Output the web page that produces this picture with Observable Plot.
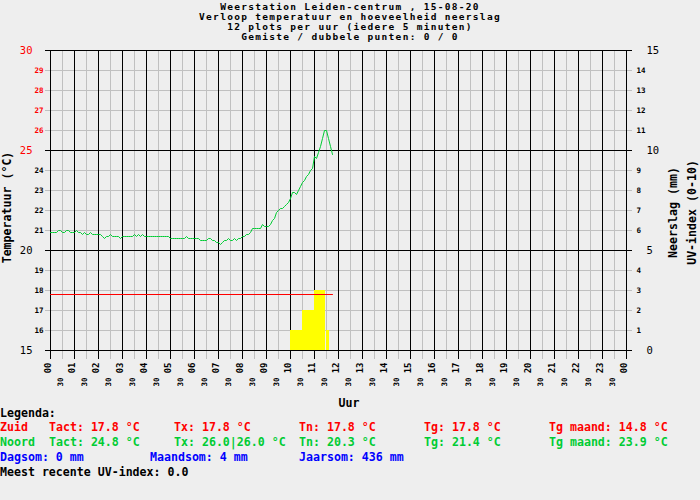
<!DOCTYPE html>
<html>
<head>
<meta charset="utf-8">
<script src="https://cdn.jsdelivr.net/npm/d3@7"></script>
<script src="https://cdn.jsdelivr.net/npm/@observablehq/plot@0.6"></script>
<style>
  html, body { margin: 0; padding: 0; background: #eeeeee; }
  #wrap { position: relative; width: 700px; height: 500px; background: #eeeeee; overflow: hidden;
          font-family: "DejaVu Sans Mono", monospace; font-weight: bold; font-size: 11.6px; }
  #title { position: absolute; left: 0; top: 2px; width: 700px; text-align: center; line-height: 10px; color: #000;
           font-size: 9.5px; letter-spacing: 1.3px; }
  #plot { position: absolute; left: 0; top: 0; }
  .lg { position: absolute; line-height: 12px; white-space: pre; }
  .red { color: #ff0000; } .green { color: #00cc33; } .blue { color: #0000ff; } .black { color: #000; }
</style>
</head>
<body>
<div id="wrap">
  <div id="plot"></div>
  <div id="title"></div>
  <div id="legend"></div>
</div>
<script>
// ---------- data ----------
const titleLines = [
  "Weerstation Leiden-centrum , 15-08-20",
  "Verloop temperatuur en hoeveelheid neerslag",
  "12 plots per uur (iedere 5 minuten)",
  "Gemiste / dubbele punten: 0 / 0"
];

// x axis (hours)
const hourTicks = [0,1,2,3,4,5,6,7,8,9,10,11,12,13,14,15,16,17,18,19,20,21,22,23,24];
const hourLabels = ["00","01","02","03","04","05","06","07","08","09","10","11","12","13","14","15","16","17","18","19","20","21","22","23","00"];
const halfHourTicks = [0.5,1.5,2.5,3.5,4.5,5.5,6.5,7.5,8.5,9.5,10.5,11.5,12.5,13.5,14.5,15.5,16.5,17.5,18.5,19.5,20.5,21.5,22.5,23.5];
const halfHourLabel = "30";

// left axis (temperature)
const tempMajor = [15, 20, 25, 30];
const tempMinor = [16,17,18,19,21,22,23,24,26,27,28,29];
// right axis (precipitation mm / UV index)
const rainMajor = [0, 5, 10, 15];
const rainMinor = [1,2,3,4,6,7,8,9,11,12,13,14];

// Noord temperature, 12 samples per hour (5 minutes), starting 00:00
const noordTempByHour = [
  [20.9,20.9,20.9,20.9,21.0,21.0,20.9,20.9,21.0,21.0,20.9,20.9],
  [20.9,21.0,20.9,20.9,20.8,20.9,20.8,20.8,20.9,20.8,20.8,20.8],
  [20.8,20.8,20.7,20.6,20.7,20.7,20.8,20.7,20.7,20.7,20.7,20.6],
  [20.7,20.7,20.7,20.7,20.7,20.7,20.8,20.7,20.8,20.7,20.8,20.7],
  [20.7,20.7,20.7,20.7,20.7,20.7,20.7,20.7,20.7,20.7,20.7,20.7],
  [20.6,20.6,20.6,20.6,20.6,20.6,20.6,20.6,20.7,20.6,20.6,20.6],
  [20.6,20.6,20.6,20.5,20.5,20.5,20.5,20.6,20.6,20.5,20.5,20.4],
  [20.4,20.3,20.4,20.5,20.5,20.6,20.5,20.5,20.6,20.5,20.6,20.6],
  [20.7,20.7,20.8,20.8,20.9,21.1,21.1,21.1,21.1,21.1,21.3,21.2],
  [21.2,21.2,21.3,21.5,21.6,21.9,22.0,22.1,22.1,22.2,22.3,22.4],
  [22.6,22.9,22.9,22.8,23.0,23.2,23.4,23.5,23.7,23.8,24.0,24.1],
  [24.7,24.6,24.9,25.2,25.6,26.0,26.0,25.6,25.2,24.8]
];
const samplesPerHour = 12;

// Zuid temperature (flat)
const zuidTimes = ["00:00", "11:45"];
const zuidTemp = [17.8, 17.8];

// Precipitation bars
const rainStart = ["10:00", "10:30", "11:00", "11:30"];
const rainEnd   = ["10:30", "11:00", "11:27", "11:37"];
const rainMm    = [1, 2, 3, 1];

// Legend
const legendRows = [
  {top: 407, cls: "black", items: [[0, "Legenda:"]]},
  {top: 421, cls: "red", items: [[0,"Zuid"],[49,"Tact: 17.8 °C"],[174,"Tx: 17.8 °C"],[299,"Tn: 17.8 °C"],[424,"Tg: 17.8 °C"],[549,"Tg maand: 14.8 °C"]]},
  {top: 436, cls: "green", items: [[0,"Noord"],[49,"Tact: 24.8 °C"],[174,"Tx: 26.0|26.0 °C"],[299,"Tn: 20.3 °C"],[424,"Tg: 21.4 °C"],[549,"Tg maand: 23.9 °C"]]},
  {top: 451, cls: "blue", items: [[0,"Dagsom: 0 mm"],[150,"Maandsom: 4 mm"],[299,"Jaarsom: 436 mm"]]},
  {top: 466, cls: "black", items: [[0,"Meest recente UV-index: 0.0"]]}
];

// ---------- build ----------
const toHour = s => { const [h, m] = s.split(":").map(Number); return h + m / 60; };

const noord = [];
noordTempByHour.forEach((row, h) => row.forEach((t, i) => noord.push({x: h + i / samplesPerHour, t})));
const zuid = zuidTimes.map((s, i) => ({x: toHour(s), t: zuidTemp[i]}));
const rain = rainStart.map((s, i) => ({x1: toHour(s), x2: toHour(rainEnd[i]), mm: rainMm[i]}));
// right axis 0..15 mm shares the pixel range of 15..30 °C
const rainToTemp = v => v + 15;

document.getElementById("title").innerHTML = titleLines.map(l => `<div>${l}</div>`).join("");
document.getElementById("legend").innerHTML = legendRows.map(r =>
  r.items.map(([left, txt]) => `<div class="lg ${r.cls}" style="left:${left}px;top:${r.top}px">${txt}</div>`).join("")
).join("");

const GRAY = "#c0c0c0";
const GREEN = "#00cc33";
const font = "DejaVu Sans Mono, monospace";

const chart = Plot.plot({
  width: 700,
  height: 410,
  marginLeft: 50,
  marginRight: 74,
  marginTop: 50,
  marginBottom: 60,
  style: {background: "transparent", overflow: "visible", fontFamily: font},
  x: {domain: [0, 24], axis: null},
  y: {domain: [15, 30], axis: null},
  marks: [
    Plot.ruleX(halfHourTicks, {x: d => d, stroke: GRAY, insetBottom: -9, shapeRendering: "crispEdges"}),
    Plot.ruleY(tempMinor, {y: d => d, stroke: GRAY, insetLeft: -5, insetRight: -6, shapeRendering: "crispEdges"}),
    Plot.ruleX(hourTicks, {x: d => d, stroke: "black", insetBottom: -9, shapeRendering: "crispEdges"}),
    Plot.ruleY(tempMajor, {y: d => d, stroke: "black", insetLeft: -5, insetRight: -6, shapeRendering: "crispEdges"}),
    Plot.rectY(rain, {x1: "x1", x2: "x2", y1: rainToTemp(0), y2: d => rainToTemp(d.mm), fill: "#ffff00", shapeRendering: "crispEdges"}),
    Plot.ruleY([tempMajor[0]], {y: d => d, stroke: "black", insetLeft: -5, insetRight: -6, shapeRendering: "crispEdges"}),
    Plot.line(zuid, {x: "x", y: "t", stroke: "#ff0000", strokeWidth: 1}),
    Plot.line(noord, {x: "x", y: "t", stroke: GREEN, strokeWidth: 1}),
    // left axis labels
    Plot.text(tempMinor, {y: d => d, text: d => String(d), frameAnchor: "left", dx: -7, textAnchor: "end",
      fill: d => d > 25 ? "#ff0000" : "black", fontSize: 7.5, fontWeight: "bold"}),
    Plot.text(tempMajor, {y: d => d, text: d => String(d), frameAnchor: "left", dx: -18, textAnchor: "end",
      fill: d => d >= 25 ? "#ff0000" : "black", fontSize: 10.5, fontWeight: "normal"}),
    // right axis labels
    Plot.text(rainMinor, {y: d => rainToTemp(d), text: d => String(d), frameAnchor: "right", dx: 10, textAnchor: "start",
      fill: "black", fontSize: 7.5, fontWeight: "bold"}),
    Plot.text(rainMajor, {y: d => rainToTemp(d), text: d => String(d), frameAnchor: "right", dx: 20, textAnchor: "start",
      fill: "black", fontSize: 10.5, fontWeight: "normal"}),
    // x axis labels
    Plot.text(hourTicks, {x: d => d, text: (d, i) => hourLabels[i], frameAnchor: "bottom", dy: 12, rotate: -90,
      textAnchor: "end", fontSize: 9, fontWeight: "bold", fill: "black"}),
    Plot.text(halfHourTicks, {x: d => d, text: () => halfHourLabel, frameAnchor: "bottom", dy: 27, rotate: -90,
      textAnchor: "end", fontSize: 7.5, fontWeight: "bold", fill: "black"}),
    // axis titles
    Plot.text(["Uur"], {frameAnchor: "bottom", dy: 56, textAnchor: "start", lineAnchor: "bottom",
      fontSize: 11.6, fontWeight: "bold", fill: "black"}),
    Plot.text(["Temperatuur (°C)"], {frameAnchor: "left", dx: -43, dy: 7, rotate: -90, textAnchor: "middle",
      fontSize: 11.6, fontWeight: "bold", fill: "black"}),
    Plot.text(["Neerslag (mm)"], {frameAnchor: "right", dx: 47, dy: 12, rotate: -90, textAnchor: "middle",
      fontSize: 11.6, fontWeight: "bold", fill: "black"}),
    Plot.text(["UV-index (0-10)"], {frameAnchor: "right", dx: 66, dy: 12, rotate: -90, textAnchor: "middle",
      fontSize: 11.6, fontWeight: "bold", fill: "black"})
  ]
});
document.getElementById("plot").appendChild(chart);
</script>
</body>
</html>
